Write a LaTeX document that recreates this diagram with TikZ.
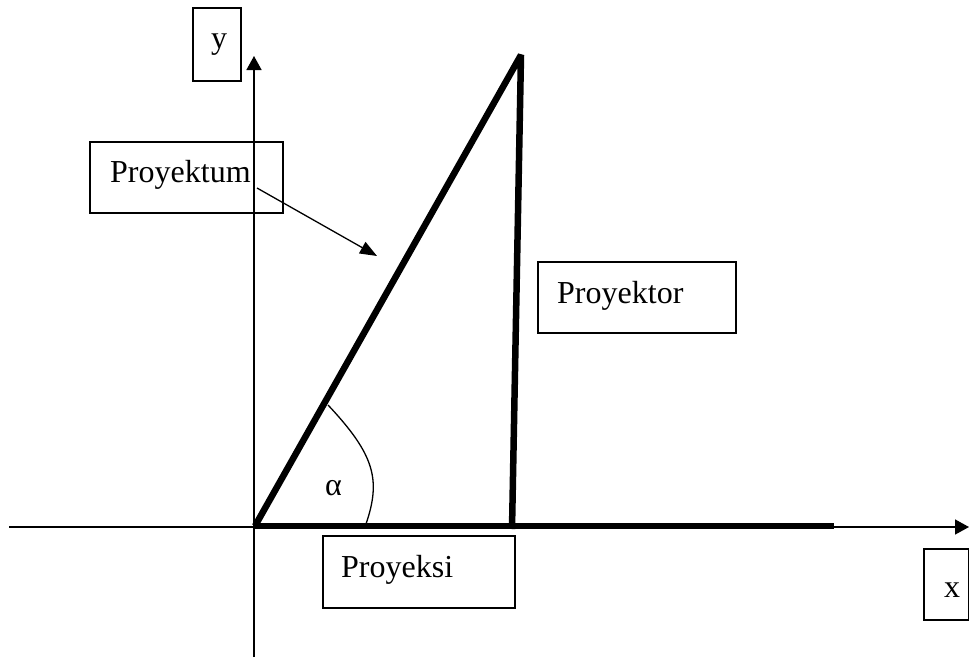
\documentclass[tikz,border=0pt]{standalone}
\usepackage{fontspec}
\setmainfont{Liberation Serif}
\usetikzlibrary{arrows.meta}
\begin{document}
\begin{tikzpicture}[x=1pt,y=-1pt,
  axis/.style={line width=1.5pt},
  thickline/.style={line width=6.5pt},
  box/.style={draw,line width=1.5pt,rectangle,inner sep=0pt,anchor=north west},
  lbl/.style={anchor=base west,inner sep=0pt,font=\fontsize{32}{37}\selectfont},
  axtip/.style={-{Triangle[length=14pt,width=15pt]}}]
\useasboundingbox (0,0) rectangle (969,659);
% coordinates
\coordinate (O) at (255,526);
\coordinate (T) at (521,55);
\coordinate (B) at (512,529);
\coordinate (E) at (834,526);
\coordinate (xs) at (9,527);
\coordinate (xe) at (969,527);
\coordinate (ys) at (254,657);
\coordinate (ye) at (254,56);
% axes
\draw[axis,axtip] (xs) -- (xe);
\draw[axis,axtip] (ys) -- (ye);
% thick triangle
\draw[thickline,line join=bevel] (O) -- (T) -- (B);
\draw[thickline] (O) -- (E);
% angle arc
\coordinate (a1) at (328,405);
\coordinate (a2) at (366,524);
\draw[line width=1.3pt] (a1) .. controls (375,455) and (381,480) .. (a2);
% boxes
\node[box,minimum width=48pt,minimum height=73pt] (ybox) at (192,7) {};
\node[box,minimum width=193pt,minimum height=71pt] (pmbox) at (89,141) {};
\node[box,minimum width=198pt,minimum height=71pt] (prbox) at (537,261) {};
\node[box,minimum width=192pt,minimum height=72pt] (psbox) at (322,535) {};
\node[box,minimum width=45pt,minimum height=71pt] (xbox) at (923,548) {};
% labels
\node[lbl] (ylbl) at (211,48) {y};
\node[lbl] (pmlbl) at (110,182) {Proyektum};
\node[lbl] (prlbl) at (557,303) {Proyektor};
\node[lbl] (pslbl) at (341,577) {Proyeksi};
\node[lbl] (xlbl) at (944,597) {x};
\node[lbl] (alpha) at (325,495) {α};
% proyektum arrow
\coordinate (pmstart) at (257,188);
\coordinate (pmtip) at (377,256);
\draw[line width=1.3pt,-{Triangle[length=17pt,width=13pt]}] (pmstart) -- (pmtip);
\end{tikzpicture}
\end{document}
